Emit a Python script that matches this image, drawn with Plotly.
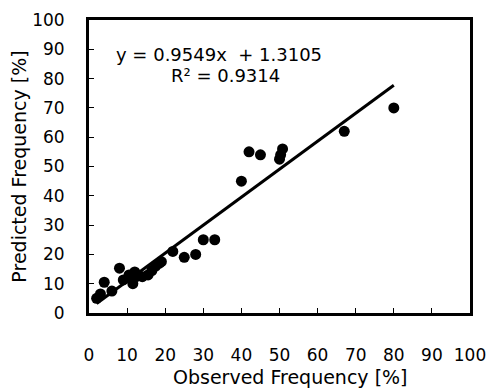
import plotly.graph_objects as go

observed = [2, 3, 4, 6, 8, 9, 10.5, 11.5, 12, 12.5, 14, 15.5, 16.5, 17.5, 18.5, 19, 22, 25, 28, 30, 33, 40, 42, 45, 50, 50.3, 50.8, 67, 80]
predicted = [5, 6.5, 10.5, 7.5, 15.3, 11.3, 13, 10, 14, 12.5, 12.4, 13, 14.5, 16, 17, 17.5, 21, 19, 20, 25, 25, 45, 55, 54, 52.5, 54, 56, 62, 70]

slope = 0.9549
intercept = 1.3105
r_squared = 0.9314

x_ticks = list(range(0, 101, 10))
y_ticks = list(range(0, 101, 10))

FONT = "DejaVu Sans"

fit_x = [min(observed), max(observed)]
fit_y = [slope * v + intercept for v in fit_x]

fig = go.Figure()
fig.add_trace(go.Scatter(x=observed, y=predicted, mode="markers",
                         marker=dict(color="black", size=11, line=dict(width=0)),
                         showlegend=False, hoverinfo="skip"))
fig.add_trace(go.Scatter(x=fit_x, y=fit_y, mode="lines",
                         line=dict(color="black", width=3),
                         showlegend=False, hoverinfo="skip"))

txt_font = dict(family=FONT, size=18, color="black")
fig.add_annotation(x=0.341, y=0.881, xref="paper", yref="paper",
                   text=f"y = {slope}x  + {intercept}", showarrow=False, font=txt_font,
                   xanchor="center", yanchor="middle")
fig.add_annotation(x=0.357, y=0.812, xref="paper", yref="paper",
                   text=f"R² = {r_squared}", showarrow=False, font=txt_font,
                   xanchor="center", yanchor="middle")

title_font = dict(family=FONT, size=19, color="black")
fig.add_annotation(x=0.53, y=-0.22, xref="paper", yref="paper",
                   text="Observed Frequency [%]", showarrow=False, font=title_font,
                   xanchor="center", yanchor="middle")
fig.add_annotation(x=-0.186, y=0.5, xref="paper", yref="paper",
                   text="Predicted Frequency [%]", showarrow=False, font=title_font,
                   textangle=-90, xanchor="center", yanchor="middle")

axis_common = dict(range=[0, 100], ticks="inside", ticklen=5, tickwidth=1, tickcolor="black",
                   showline=True, linecolor="black", linewidth=3, mirror=True,
                   showgrid=False, zeroline=False, automargin=False,
                   tickfont=dict(family=FONT, size=17, color="black"))

fig.update_xaxes(**axis_common, tickvals=x_ticks, ticklabelstandoff=25)
fig.update_yaxes(**axis_common, tickvals=y_ticks, ticklabelstandoff=18)

fig.update_layout(width=487, height=390,
                  margin=dict(l=89, r=17, t=20, b=77),
                  plot_bgcolor="white", paper_bgcolor="white")

fig.write_html("out.html", config={"displayModeBar": False},
               post_script="document.body.style.margin='0';")
